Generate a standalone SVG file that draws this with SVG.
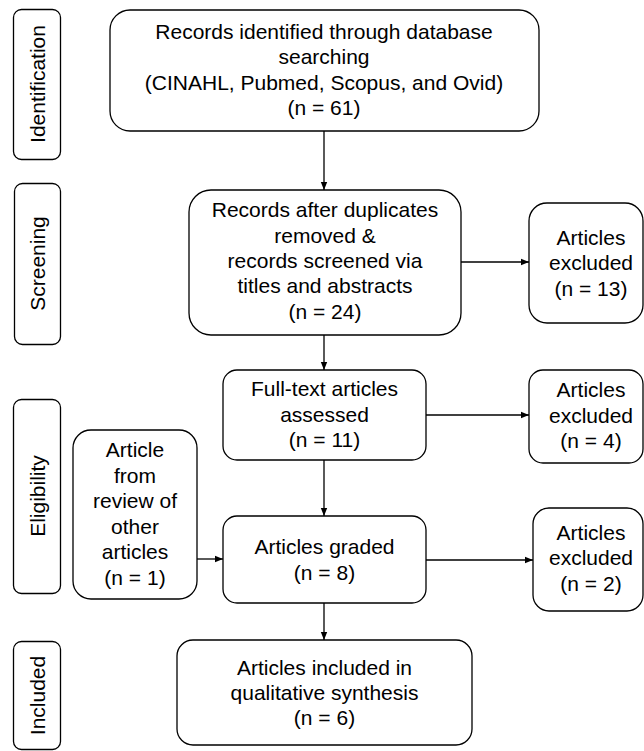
<svg xmlns="http://www.w3.org/2000/svg" width="644" height="751" viewBox="0 0 644 751">
<style>
.box{fill:#fff;stroke:#000;stroke-width:1.3}
.t{font-family:"Liberation Sans",Arial,Helvetica,sans-serif;font-size:21px;fill:#000;text-anchor:middle}
.c{fill:none;stroke:#000;stroke-width:1.3}
</style>
<defs>
<marker id="ah" viewBox="0 0 8 8" refX="8" refY="4" markerWidth="8" markerHeight="8" markerUnits="userSpaceOnUse" orient="auto">
<path d="M0,0.8 L8,4 L0,7.2 Z" fill="#000"/>
</marker>
</defs>
<rect width="644" height="751" fill="#fff"/>
<g id="connectors">
<path class="c" d="M324,131 V190" marker-end="url(#ah)"/>
<path class="c" d="M461,262 H529" marker-end="url(#ah)"/>
<path class="c" d="M324,335 V370" marker-end="url(#ah)"/>
<path class="c" d="M426,415 H529" marker-end="url(#ah)"/>
<path class="c" d="M324,460 V516" marker-end="url(#ah)"/>
<path class="c" d="M197,559 H223" marker-end="url(#ah)"/>
<path class="c" d="M426,560 H533" marker-end="url(#ah)"/>
<path class="c" d="M324,603 V640" marker-end="url(#ah)"/>
</g>
<g id="side-identification">
<rect class="box" x="13.5" y="9.5" width="47" height="150" rx="8"/>
<text class="t" transform="translate(37,84) rotate(-90)" y="7.5">Identification</text>
</g>
<g id="side-screening">
<rect class="box" x="14.5" y="183.5" width="46" height="161" rx="8"/>
<text class="t" transform="translate(37,263.5) rotate(-90)" y="7.5">Screening</text>
</g>
<g id="side-eligibility">
<rect class="box" x="13.5" y="399.5" width="47" height="194" rx="8"/>
<text class="t" transform="translate(37,496) rotate(-90)" y="7.5">Eligibility</text>
</g>
<g id="side-included">
<rect class="box" x="13.5" y="641.5" width="47" height="108" rx="8"/>
<text class="t" transform="translate(37,695.5) rotate(-90)" y="7.5">Included</text>
</g>
<g id="identified">
<rect class="box" x="110" y="10" width="429" height="121" rx="20"/>
<text class="t" x="324" y="38.5">Records identified through database</text>
<text class="t" x="324" y="64">searching</text>
<text class="t" x="324" y="89.5">(CINAHL, Pubmed, Scopus, and Ovid)</text>
<text class="t" x="324" y="115">(n = 61)</text>
</g>
<g id="screened">
<rect class="box" x="189" y="190" width="272" height="145" rx="22"/>
<text class="t" x="325" y="217">Records after duplicates</text>
<text class="t" x="325" y="242.5">removed &amp;</text>
<text class="t" x="325" y="268">records screened via</text>
<text class="t" x="325" y="293">titles and abstracts</text>
<text class="t" x="325" y="318.5">(n = 24)</text>
</g>
<g id="excluded1">
<rect class="box" x="529" y="203" width="114" height="120" rx="18"/>
<text class="t" x="591" y="244.5">Articles</text>
<text class="t" x="591" y="270">excluded</text>
<text class="t" x="591" y="295.5">(n = 13)</text>
</g>
<g id="fulltext">
<rect class="box" x="223" y="370" width="203" height="90" rx="14"/>
<text class="t" x="324.5" y="396">Full-text articles</text>
<text class="t" x="324.5" y="421.5">assessed</text>
<text class="t" x="324.5" y="447">(n = 11)</text>
</g>
<g id="excluded2">
<rect class="box" x="529" y="370" width="114" height="93" rx="14"/>
<text class="t" x="591" y="397">Articles</text>
<text class="t" x="591" y="422.5">excluded</text>
<text class="t" x="591" y="448">(n = 4)</text>
</g>
<g id="review">
<rect class="box" x="73" y="430" width="124" height="169" rx="18"/>
<text class="t" x="135" y="457">Article</text>
<text class="t" x="135" y="482.5">from</text>
<text class="t" x="135" y="508">review of</text>
<text class="t" x="135" y="533.5">other</text>
<text class="t" x="135" y="559">articles</text>
<text class="t" x="135" y="584.5">(n = 1)</text>
</g>
<g id="graded">
<rect class="box" x="223" y="516" width="203" height="87" rx="14"/>
<text class="t" x="324.5" y="554">Articles graded</text>
<text class="t" x="324.5" y="579.5">(n = 8)</text>
</g>
<g id="excluded3">
<rect class="box" x="533" y="508" width="110" height="103" rx="16"/>
<text class="t" x="591" y="539.5">Articles</text>
<text class="t" x="591" y="565">excluded</text>
<text class="t" x="591" y="590.5">(n = 2)</text>
</g>
<g id="included">
<rect class="box" x="177" y="640" width="295" height="105" rx="16"/>
<text class="t" x="324.5" y="675">Articles included in</text>
<text class="t" x="324.5" y="700">qualitative synthesis</text>
<text class="t" x="324.5" y="725">(n = 6)</text>
</g>
</svg>
